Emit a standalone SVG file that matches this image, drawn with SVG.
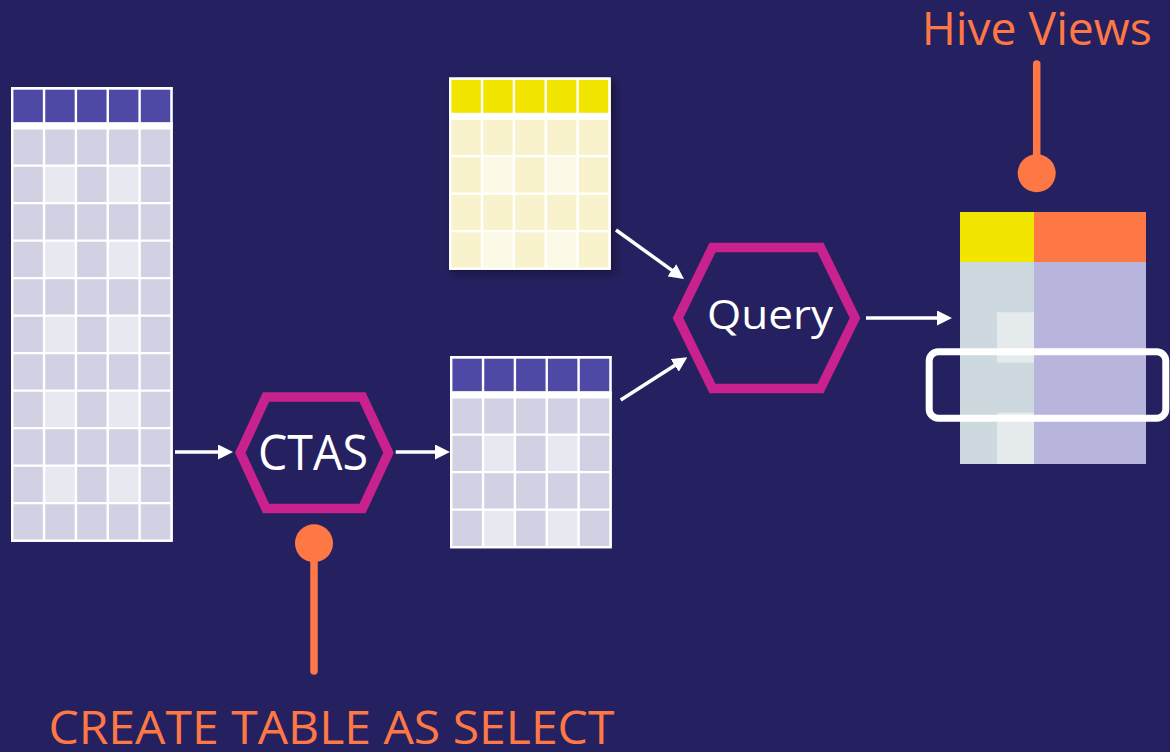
<svg xmlns="http://www.w3.org/2000/svg" width="1170" height="752" viewBox="0 0 1170 752">
  <defs>
    <style>
      .bg { fill: #25205f; }
      .grid { fill: none; stroke: #ffffff; stroke-width: 2.4; }
      .paper { fill: #ffffff; }
      .hdr-p { fill: #4f49a6; }
      .cell-p { fill: #d2d1e3; }
      .cell-pl { fill: #e8e8f1; }
      .hdr-y { fill: #f2e600; }
      .cell-y { fill: #f8f3cc; }
      .cell-yl { fill: #fcf9e7; }
      .hex { fill: none; stroke: #c9228e; stroke-width: 9.6; stroke-linejoin: miter; }
      .hex-label { fill: #ffffff; font-family: "Open Sans", "Noto Sans", sans-serif; }
      .callout { fill: #fe7846; font-family: "Open Sans", "Noto Sans", sans-serif; font-size: 45px; }
      .pin-line { stroke: #fe7846; stroke-width: 7.5; stroke-linecap: round; }
      .pin-dot { fill: #fe7846; }
      .flow { stroke: #ffffff; stroke-width: 3.5; fill: none; marker-end: url(#head); }
    </style>
    <marker id="head" markerUnits="userSpaceOnUse" markerWidth="15" markerHeight="15" refX="5" refY="7.5" orient="auto" viewBox="0 0 15 15">
      <path d="M0,0 L15,7.5 L0,15 z" fill="#ffffff"/>
    </marker>
    <filter id="shadow" x="-10%" y="-10%" width="130%" height="130%">
      <feDropShadow dx="4" dy="4" stdDeviation="4" flood-color="#000000" flood-opacity="0.35"/>
    </filter>
  </defs>

  <rect class="bg" x="0" y="0" width="1170" height="752"/>

  <!-- Source table: 5 columns, 11 data rows -->
  <g id="source-table" transform="translate(11,87)">
    <rect class="paper" x="0" y="0" width="161.65" height="454.8"/>
    <rect class="hdr-p" x="0" y="2.4" width="161.65" height="33"/>
    <rect class="cell-p" x="0" y="42.3" width="161.65" height="411.3"/>
    <g class="cell-pl">
      <rect x="33.05" y="78.6" width="31.85" height="37.5"/>
      <rect x="96.75" y="78.6" width="31.85" height="37.5"/>
      <rect x="33.05" y="153.6" width="31.85" height="37.5"/>
      <rect x="96.75" y="153.6" width="31.85" height="37.5"/>
      <rect x="33.05" y="228.6" width="31.85" height="37.5"/>
      <rect x="96.75" y="228.6" width="31.85" height="37.5"/>
      <rect x="33.05" y="303.6" width="31.85" height="37.5"/>
      <rect x="96.75" y="303.6" width="31.85" height="37.5"/>
      <rect x="33.05" y="378.6" width="31.85" height="37.5"/>
      <rect x="96.75" y="378.6" width="31.85" height="37.5"/>
    </g>
    <path class="grid" d="M1.2,0V454.8 M33.05,0V454.8 M64.9,0V454.8 M96.75,0V454.8 M128.6,0V454.8 M160.45,0V454.8
      M0,1.2H161.65 M0,78.6H161.65 M0,116.1H161.65 M0,153.6H161.65 M0,191.1H161.65 M0,228.6H161.65
      M0,266.1H161.65 M0,303.6H161.65 M0,341.1H161.65 M0,378.6H161.65 M0,416.1H161.65 M0,453.6H161.65"/>
    <rect class="paper" x="0" y="35.4" width="161.65" height="6.9"/>
  </g>

  <!-- Lookup table (yellow header) -->
  <g id="lookup-table" transform="translate(449,77.5)" filter="url(#shadow)">
    <rect class="paper" x="0" y="0" width="161.65" height="192.3"/>
    <rect class="hdr-y" x="0" y="2.4" width="161.65" height="33"/>
    <rect class="cell-y" x="0" y="42.3" width="161.65" height="148.8"/>
    <g class="cell-yl">
      <rect x="33.05" y="78.6" width="31.85" height="37.5"/>
      <rect x="96.75" y="78.6" width="31.85" height="37.5"/>
      <rect x="33.05" y="153.6" width="31.85" height="37.5"/>
      <rect x="96.75" y="153.6" width="31.85" height="37.5"/>
    </g>
    <path class="grid" d="M1.2,0V192.3 M33.05,0V192.3 M64.9,0V192.3 M96.75,0V192.3 M128.6,0V192.3 M160.45,0V192.3
      M0,1.2H161.65 M0,78.6H161.65 M0,116.1H161.65 M0,153.6H161.65 M0,191.1H161.65"/>
    <rect class="paper" x="0" y="35.4" width="161.65" height="6.9"/>
  </g>

  <!-- CTAS result table -->
  <g id="ctas-table" transform="translate(450,356)">
    <rect class="paper" x="0" y="0" width="161.65" height="192.3"/>
    <rect class="hdr-p" x="0" y="2.4" width="161.65" height="33"/>
    <rect class="cell-p" x="0" y="42.3" width="161.65" height="148.8"/>
    <g class="cell-pl">
      <rect x="33.05" y="78.6" width="31.85" height="37.5"/>
      <rect x="96.75" y="78.6" width="31.85" height="37.5"/>
      <rect x="33.05" y="153.6" width="31.85" height="37.5"/>
      <rect x="96.75" y="153.6" width="31.85" height="37.5"/>
    </g>
    <path class="grid" d="M1.2,0V192.3 M33.05,0V192.3 M64.9,0V192.3 M96.75,0V192.3 M128.6,0V192.3 M160.45,0V192.3
      M0,1.2H161.65 M0,78.6H161.65 M0,116.1H161.65 M0,153.6H161.65 M0,191.1H161.65"/>
    <rect class="paper" x="0" y="35.4" width="161.65" height="6.9"/>
  </g>

  <!-- CTAS step -->
  <g id="ctas">
    <polygon class="hex" points="240.3,452.8 266,397 362.5,397 388.5,452.8 362.5,508.5 266,508.5"/>
    <text class="hex-label" x="258" y="470" font-size="49" textLength="110" lengthAdjust="spacingAndGlyphs">CTAS</text>
  </g>

  <!-- Query step -->
  <g id="query">
    <polygon class="hex" points="678,318 712.5,247.5 820.5,247.5 855,318 820.5,388.5 712.5,388.5"/>
    <text class="hex-label" x="707" y="329" font-size="41" textLength="126" lengthAdjust="spacingAndGlyphs">Query</text>
  </g>

  <!-- Hive view result -->
  <g id="hive-view">
    <rect x="960" y="212" width="74" height="50" fill="#f2e600"/>
    <rect x="1034" y="212" width="112" height="50" fill="#fe7846"/>
    <rect x="960" y="262" width="74" height="202" fill="#cdd9de"/>
    <rect x="1034" y="262" width="112" height="202" fill="#b8b5dd"/>
    <rect x="997" y="312.3" width="37" height="50.4" fill="#e5ebed"/>
    <rect x="997" y="412.7" width="37" height="51.3" fill="#e5ebed"/>
    <rect x="929.2" y="351.8" width="236.6" height="66.4" rx="9" fill="none" stroke="#ffffff" stroke-width="7"/>
  </g>

  <!-- Flow arrows -->
  <g id="connectors">
    <line class="flow" x1="175" y1="452" x2="223" y2="452"/>
    <line class="flow" x1="395.7" y1="452" x2="440" y2="452"/>
    <line class="flow" x1="616" y1="230" x2="675.9" y2="273.15"/>
    <line class="flow" x1="620.7" y1="400" x2="678.9" y2="362.7"/>
    <line class="flow" x1="866" y1="318" x2="942" y2="318"/>
  </g>

  <!-- Callouts -->
  <g id="callout-hive">
    <line class="pin-line" x1="1036.7" y1="64" x2="1036.7" y2="173"/>
    <circle class="pin-dot" cx="1036.7" cy="173.3" r="19"/>
    <text class="callout" x="921.7" y="45" textLength="230" lengthAdjust="spacingAndGlyphs">Hive Views</text>
  </g>
  <g id="callout-ctas">
    <line class="pin-line" x1="314" y1="543" x2="314" y2="671"/>
    <circle class="pin-dot" cx="314" cy="543.3" r="19"/>
    <text class="callout" x="48.4" y="744" textLength="566" lengthAdjust="spacingAndGlyphs">CREATE TABLE AS SELECT</text>
  </g>
</svg>
